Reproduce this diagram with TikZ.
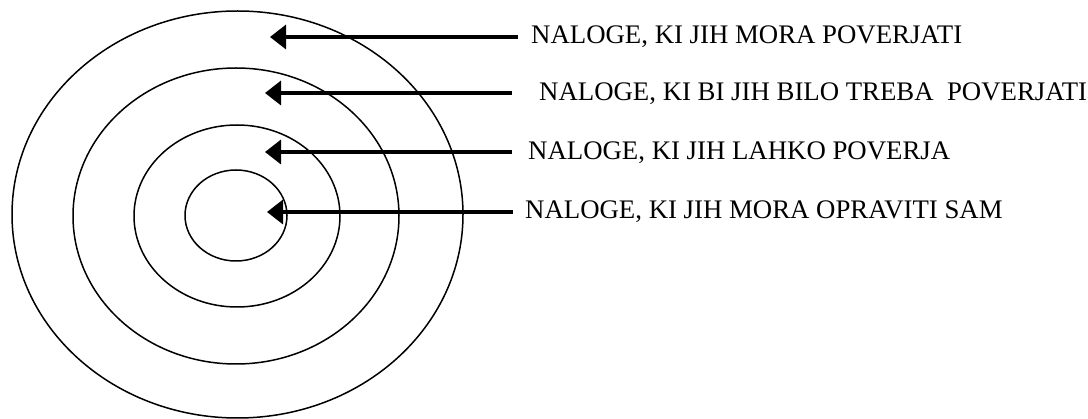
\documentclass[tikz,border=0pt]{standalone}
\usepackage{fontspec}
\setmainfont{Liberation Serif}
\usetikzlibrary{arrows.meta,shapes.geometric}
\begin{document}
\begin{tikzpicture}[x=1pt,y=-1pt,
  ring/.style={draw=black,line width=1.5pt},
  pointer/.style={line width=3.4pt,-{Triangle[length=16pt,width=24pt]}},
  lbl/.style={anchor=west,inner sep=0pt,font=\fontsize{26.8}{30}\selectfont}]
\useasboundingbox (0,0) rectangle (1088,419);
% rings
\draw[ring] (237.5,214.5) ellipse [x radius=225.5,y radius=203.5];
\draw[ring] (236,216) ellipse [x radius=163,y radius=148];
\draw[ring] (237,216) ellipse [x radius=103,y radius=91];
\draw[ring] (236,215.5) ellipse [x radius=51,y radius=45.5];
% labels
\node[lbl] (t1) at (531,37) {NALOGE, KI JIH MORA POVERJATI};
\node[lbl] (t2) at (539,94) {NALOGE, KI BI JIH BILO TREBA~ POVERJATI};
\node[lbl] (t3) at (528,153) {NALOGE, KI JIH LAHKO POVERJA};
\node[lbl] (t4) at (525,212) {NALOGE, KI JIH MORA OPRAVITI SAM};
% arrow ends
\coordinate (s1) at (518,37);
\coordinate (s2) at (512,93);
\coordinate (s3) at (512,152);
\coordinate (s4) at (513,212);
\coordinate (e1) at (270,37);
\coordinate (e2) at (265,93);
\coordinate (e3) at (265,152);
\coordinate (e4) at (267,212);
\draw[pointer] (s1) -- (e1);
\draw[pointer] (s2) -- (e2);
\draw[pointer] (s3) -- (e3);
\draw[pointer] (s4) -- (e4);
\end{tikzpicture}
\end{document}
